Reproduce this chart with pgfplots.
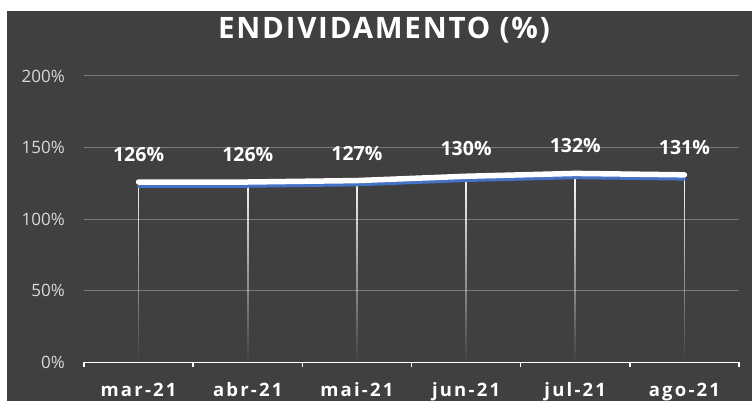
\documentclass[border=0pt]{standalone}
\usepackage{pgfplots}
\pgfplotsset{compat=1.18}
\usepackage{fontspec}
\setmainfont{Open Sans}
\newfontfamily\spacedfont{Open Sans}[LetterSpace=12]
\newfontfamily\titlefont{Open Sans}[LetterSpace=6]
\usetikzlibrary{fadings}
\definecolor{bg}{RGB}{64,64,64}
\definecolor{gridc}{RGB}{122,122,122}
\definecolor{ticklab}{RGB}{217,217,217}
\definecolor{lineblue}{RGB}{68,114,196}
\begin{document}
\begin{tikzpicture}[x=1pt,y=1pt]
\useasboundingbox (0,0) rectangle (752,401);
\fill[white] (0,0) rectangle (752,401);
\fill[bg] (7,0) rectangle (752,390);
\node[anchor=base, inner sep=0pt, text=white,
      font=\titlefont\bfseries\fontsize{29.5}{31}\selectfont]
  at (384,362.7) {ENDIVIDAMENTO (\%)};
\begin{axis}[
  at={(84pt,38.5pt)}, anchor=south west,
  scale only axis, width=655pt, height=286.5pt,
  xmin=0.5, xmax=6.5, ymin=0, ymax=200,
  xtick={1,...,6},
  xticklabels={mar-21,abr-21,mai-21,jun-21,jul-21,ago-21},
  minor xtick={0.5,1.5,...,6.5},
  ytick={0,50,...,200},
  yticklabels={0\%,50\%,100\%,150\%,200\%},
  major tick length=0pt, minor tick length=5pt, tick align=outside,
  every minor tick/.append style={white, line width=1.5pt},
  axis x line*=bottom, axis y line*=left,
  x axis line style={white, line width=1.5pt, -},
  y axis line style={draw=none},
  ymajorgrids, grid style={gridc, line width=1pt},
  xticklabel style={font=\spacedfont\bfseries\fontsize{18.5}{20}\selectfont,
    text=white, anchor=base, inner sep=0pt, yshift=-34.2pt},
  yticklabel style={font=\fontsize{17}{19}\selectfont, text=ticklab,
    anchor=east, inner sep=0pt, xshift=-19pt},
  /pgf/number format/assume math mode=true,
  clip=false,
]
% drop lines
\addplot[ycomb, draw=white, line width=1.6pt, path fading=south, forget plot]
  coordinates {(1,126)(2,126)(3,127)(4,130)(5,132)(6,131)};
% blue shadow line
\addplot[lineblue, line width=3.5pt, line cap=round, yshift=-4pt, forget plot]
  coordinates {(1,126)(2,126)(3,127)(4,130)(5,132)(6,131)};
% white line with labels
\addplot[white, line width=5.5pt, line cap=round,
  nodes near coords={\pgfmathprintnumber{\pgfplotspointmeta}\%},
  every node near coord/.append style={font=\bfseries\fontsize{19.5}{21}\selectfont,
    text=white, anchor=base, inner sep=0pt, yshift=20.5pt}]
  coordinates {(1,126)(2,126)(3,127)(4,130)(5,132)(6,131)};
\end{axis}
\end{tikzpicture}
\end{document}
